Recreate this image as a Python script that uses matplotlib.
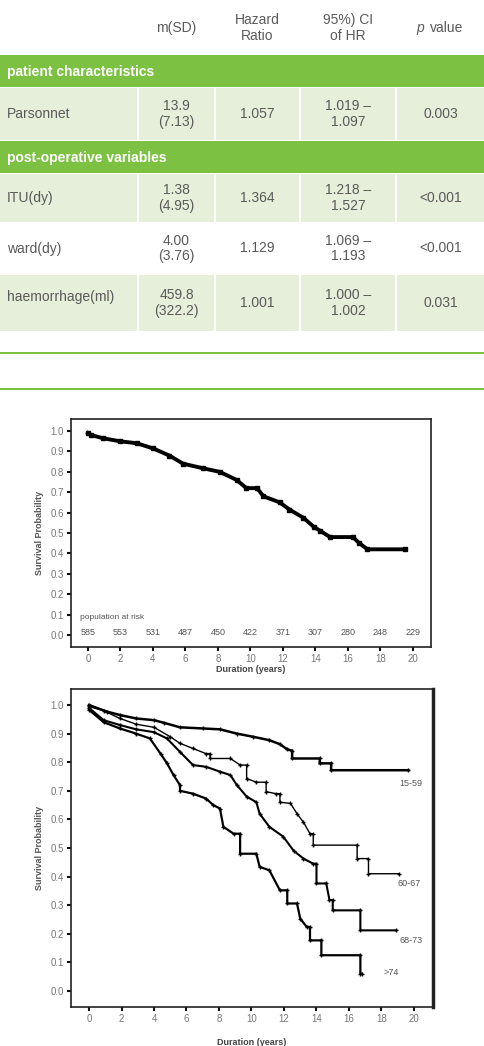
import matplotlib
matplotlib.use("Agg")
import matplotlib.pyplot as plt
from matplotlib.patches import Rectangle

plt.rcParams['font.family'] = ['Liberation Sans', 'DejaVu Sans']

# ---------------- table data ----------------
header = ["m(SD)", "Hazard\nRatio", "95%) CI\nof HR", "value"]
sections = ["patient characteristics", "post-operative variables"]
row_names = ["Parsonnet", "ITU(dy)", "ward(dy)", "haemorrhage(ml)"]
row_msd = ["13.9\n(7.13)", "1.38\n(4.95)", "4.00\n(3.76)", "459.8\n(322.2)"]
row_hr = ["1.057", "1.364", "1.129", "1.001"]
row_ci = ["1.019 –\n1.097", "1.218 –\n1.527", "1.069 –\n1.193", "1.000 –\n1.002"]
row_p = ["0.003", "<0.001", "<0.001", "0.031"]

# ---------------- plot 1 data ----------------
t_all = [0, 0.2, 0.9, 1.95, 3.0, 4.0, 5.0, 5.85, 7.1, 8.1, 9.15, 9.75, 10.4, 10.8,
         11.8, 12.4, 13.25, 13.9, 14.3, 14.9, 16.3, 16.7, 17.2, 19.5]
s_all = [0.99, 0.98, 0.965, 0.95, 0.94, 0.915, 0.88, 0.84, 0.817, 0.80, 0.76, 0.72,
         0.72, 0.68, 0.65, 0.615, 0.575, 0.53, 0.51, 0.48, 0.48, 0.45, 0.42, 0.42]
risk_years = [0, 2, 4, 6, 8, 10, 12, 14, 16, 18, 20]
risk_counts = ["585", "553", "531", "487", "450", "422", "371", "307", "280", "248", "229"]

# ---------------- plot 2 data ----------------
group_labels = ["15-59", "60-67", "68-73", ">74"]
t_1559 = [0, 1.1, 1.9, 2.9, 4.0, 4.6, 5.6, 7.0, 8.06, 9.1, 10.1, 11.1, 11.75, 12.2,
          12.5, 12.5, 14.2, 14.2, 14.9, 14.9, 19.65]
s_1559 = [1.0, 0.977, 0.965, 0.953, 0.947, 0.938, 0.922, 0.918, 0.915, 0.90, 0.889,
          0.877, 0.863, 0.845, 0.84, 0.813, 0.813, 0.796, 0.796, 0.772, 0.772]
t_6067 = [0, 0.9, 1.9, 2.9, 4.0, 5.0, 5.6, 6.4, 7.2, 7.45, 7.45, 8.7, 9.3, 9.7, 9.7,
          10.3, 10.9, 10.9, 11.5, 11.75, 11.75, 12.4, 12.8, 13.2, 13.6, 13.8, 13.8,
          16.5, 16.5, 17.2, 17.2, 19.1]
s_6067 = [0.995, 0.98, 0.953, 0.933, 0.922, 0.889, 0.866, 0.848, 0.83, 0.83, 0.813,
          0.813, 0.79, 0.79, 0.743, 0.73, 0.73, 0.697, 0.69, 0.69, 0.66, 0.656, 0.62,
          0.59, 0.55, 0.55, 0.51, 0.51, 0.463, 0.463, 0.41, 0.41]
t_6873 = [0, 0.9, 1.9, 2.9, 4.0, 4.8, 5.6, 6.4, 7.2, 8.06, 8.7, 9.1, 9.7, 10.3, 10.5,
          11.1, 11.95, 12.6, 13.2, 13.8, 14.0, 14.0, 14.6, 14.8, 15.0, 15.0, 16.7, 16.7,
          18.9]
s_6873 = [0.99, 0.947, 0.93, 0.915, 0.905, 0.883, 0.836, 0.79, 0.784, 0.767, 0.755,
          0.72, 0.68, 0.66, 0.62, 0.574, 0.54, 0.49, 0.463, 0.445, 0.445, 0.376, 0.376,
          0.318, 0.318, 0.282, 0.282, 0.212, 0.212]
t_74 = [0, 0.9, 1.9, 2.9, 3.75, 4.4, 4.8, 5.2, 5.6, 5.6, 6.4, 7.2, 7.65, 8.06, 8.27,
        8.9, 9.3, 9.3, 10.3, 10.5, 11.1, 11.75, 12.2, 12.2, 12.8, 13.0, 13.4, 13.6, 13.6,
        14.3, 14.3, 16.7, 16.7, 16.8]
s_74 = [0.983, 0.94, 0.918, 0.90, 0.883, 0.83, 0.796, 0.755, 0.72, 0.70, 0.69, 0.673,
        0.65, 0.638, 0.574, 0.55, 0.55, 0.48, 0.48, 0.434, 0.422, 0.352, 0.352, 0.306,
        0.306, 0.253, 0.224, 0.224, 0.177, 0.177, 0.125, 0.125, 0.06, 0.06]
label_pos_t = [19.1, 19.0, 19.1, 18.1]
label_pos_s = [0.726, 0.376, 0.177, 0.063]

W, H = 485, 1046
fig = plt.figure(figsize=(W / 100, H / 100), dpi=100)

# ---------------- table canvas ----------------
cv = fig.add_axes([0, 0, 1, 1])
cv.set_xlim(0, W)
cv.set_ylim(H, 0)
cv.axis('off')

GREEN = '#7cc142'
LIGHT = '#e5efda'
TXT = '#5a5a5a'
col_edges = [0, 138, 215, 300, 396, 485]
col_centers = [(col_edges[i] + col_edges[i + 1]) / 2 for i in range(5)]

# header
for j, h in enumerate(header):
    cx = col_centers[j + 1]
    if j == 3:
        cv.text(cx - 20, 28, "p", style='italic', ha='center', va='center',
                fontsize=10, color=TXT)
        cv.text(cx + 6, 28, h, ha='center', va='center', fontsize=10, color=TXT)
    else:
        cv.text(cx, 28, h, ha='center', va='center', fontsize=10, color=TXT,
                linespacing=1.1)

band_y = [(55, 87), (141, 173)]
row_y = [(88, 140), (174, 222), (223, 274), (275, 331)]
row_fill = [True, True, False, True]
for (y0, y1), name in zip(band_y, sections):
    cv.add_patch(Rectangle((0, y0), W, y1 - y0, color=GREEN, lw=0))
    cv.text(7, (y0 + y1) / 2 + 1, name, ha='left', va='center', fontsize=10,
            fontweight='bold', color='white')

for i, (y0, y1) in enumerate(row_y):
    if row_fill[i]:
        for j in range(5):
            x0 = col_edges[j] + (1 if j > 0 else 0)
            x1 = col_edges[j + 1] - 1
            cv.add_patch(Rectangle((x0, y0), x1 - x0, y1 - y0, color=LIGHT, lw=0))
    yc = (y0 + y1) / 2
    cv.text(7, yc - (6 if i == 3 else 0), row_names[i], ha='left', va='center',
            fontsize=10, color=TXT)
    vals = [row_msd[i], row_hr[i], row_ci[i], row_p[i]]
    for j, v in enumerate(vals):
        cv.text(col_centers[j + 1], yc, v, ha='center', va='center', fontsize=10,
                color=TXT, linespacing=1.15)

for yl in (353, 389):
    cv.add_patch(Rectangle((0, yl - 1.2), W, 2.4, color=GREEN, lw=0))

# ---------------- plot style helper ----------------
TICKC = '#777777'


def style_axes(ax):
    for sp in ax.spines.values():
        sp.set_linewidth(1.2)
        sp.set_color('#222222')
    ax.tick_params(direction='out', length=3, width=1.5, color='#111111',
                   labelsize=7, labelcolor=TICKC, pad=2)
    ax.set_xticks(range(0, 21, 2))
    ax.set_yticks([i / 10 for i in range(11)])
    ax.set_yticklabels([f"{i / 10:.1f}" for i in range(11)])
    ax.set_ylabel("Survival Probability", fontsize=6.5, fontweight='bold',
                  color='#555555', labelpad=5)


# ---------------- plot 1 ----------------
ax1 = fig.add_axes([71 / W, 1 - 647 / H, (431 - 71) / W, (647 - 419) / H])
ax1.set_xlim(-1.046, 21.11)
ax1.set_ylim(-0.059, 1.059)
style_axes(ax1)
ax1.plot(t_all, s_all, color='black', lw=2.8, marker='s', ms=2.2,
         solid_joinstyle='miter')
ax1.text(-0.5, 0.087, "population at risk", fontsize=6, color='#555555',
         ha='left', va='center')
for x, c in zip(risk_years, risk_counts):
    ax1.text(x, 0.012, c, fontsize=6.5, color='#555555', ha='center', va='center')
ax1.set_xlabel("Duration (years)", fontsize=6.5, fontweight='bold',
               color='#444444', labelpad=1)

# ---------------- plot 2 ----------------
ax2 = fig.add_axes([71 / W, 1 - 1007 / H, (433 - 71) / W, (1007 - 689) / H])
ax2.set_xlim(-1.108, 21.17)
ax2.set_ylim(-0.056, 1.056)
style_axes(ax2)
curves = [(t_1559, s_1559, 1.8), (t_6067, s_6067, 1.0), (t_6873, s_6873, 1.5),
          (t_74, s_74, 1.6)]
for (t, s, lw) in curves:
    ax2.plot(t, s, color='black', lw=lw, solid_joinstyle='miter')
    ax2.plot(t, s, color='black', lw=0, marker='+', ms=3, mew=1.0)
for lab, x, y in zip(group_labels, label_pos_t, label_pos_s):
    ax2.text(x, y, lab, fontsize=6.5, color='#555555', ha='left', va='center')
ax2.spines['right'].set_linewidth(2.5)
ax2.set_xlabel("Duration (years)", fontsize=6.5, fontweight='bold',
               color='#444444', labelpad=10)

fig.savefig("out.png", dpi=100)
